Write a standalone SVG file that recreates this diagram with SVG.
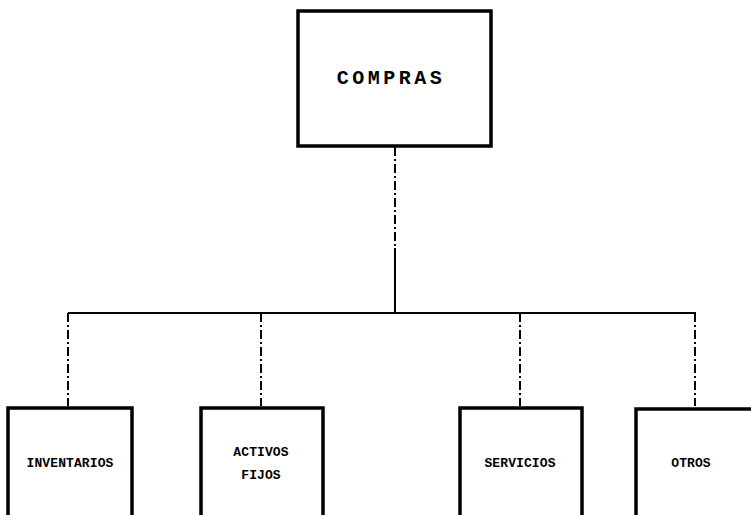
<svg xmlns="http://www.w3.org/2000/svg" width="751" height="515" viewBox="0 0 751 515">
  <style>
    .box { fill: #ffffff; stroke: #000000; stroke-width: 3.5; }
    .link { fill: none; stroke: #000000; stroke-width: 2; }
    .dash { stroke-dasharray: 9 3 2 3; }
    .title { font-family: "Liberation Mono", "DejaVu Sans Mono", monospace; font-weight: bold; font-size: 20px; letter-spacing: 3.5px; fill: #000000; }
    .label { font-family: "Liberation Mono", "DejaVu Sans Mono", monospace; font-weight: bold; font-size: 13px; letter-spacing: 0.1px; fill: #000000; }
  </style>
  <rect width="751" height="515" fill="#ffffff"/>

  <g id="connectors">
    <line class="link dash" x1="395" y1="147" x2="395" y2="248"/>
    <line class="link" x1="395" y1="248" x2="395" y2="313"/>
    <line class="link" x1="68" y1="313" x2="696" y2="313"/>
    <line class="link dash" x1="68" y1="313" x2="68" y2="406"/>
    <line class="link dash" x1="261" y1="313" x2="261" y2="406"/>
    <line class="link dash" x1="520" y1="313" x2="520" y2="406"/>
    <line class="link dash" x1="695" y1="313" x2="695" y2="406"/>
  </g>

  <g id="compras">
    <rect class="box" x="298" y="11" width="193" height="135"/>
    <text class="title" x="391" y="84" text-anchor="middle">COMPRAS</text>
  </g>

  <g id="inventarios">
    <rect class="box" x="8" y="408" width="124" height="130"/>
    <text class="label" x="70" y="467" text-anchor="middle">INVENTARIOS</text>
  </g>

  <g id="activos-fijos">
    <rect class="box" x="201" y="408" width="122" height="130"/>
    <text class="label" x="261" y="456" text-anchor="middle">ACTIVOS</text>
    <text class="label" x="261" y="479" text-anchor="middle">FIJOS</text>
  </g>

  <g id="servicios">
    <rect class="box" x="460" y="408" width="122" height="130"/>
    <text class="label" x="520" y="467" text-anchor="middle">SERVICIOS</text>
  </g>

  <g id="otros">
    <path class="box" d="M636 540 V409 H760"/>
    <text class="label" x="691" y="467" text-anchor="middle">OTROS</text>
  </g>
</svg>
